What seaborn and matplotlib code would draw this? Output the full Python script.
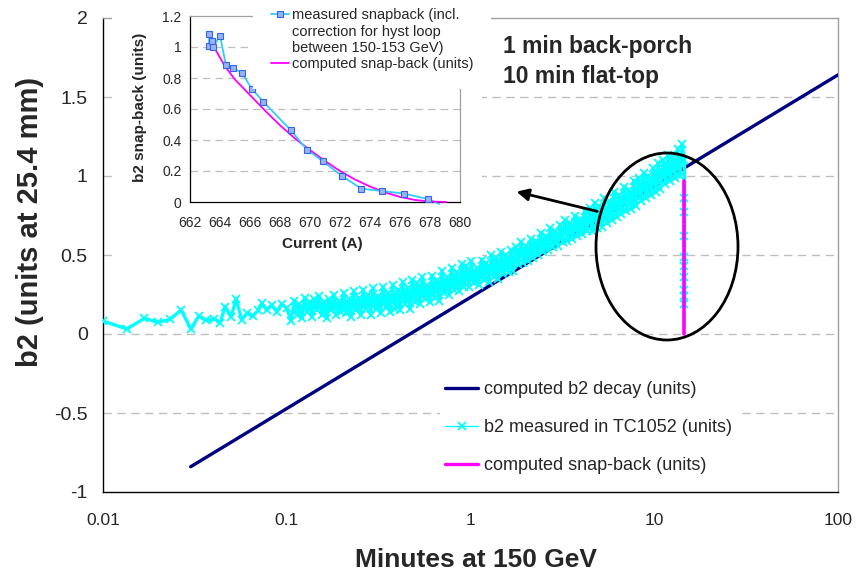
import matplotlib
matplotlib.use("Agg")
import matplotlib.pyplot as plt
from matplotlib.patches import Ellipse
from matplotlib.lines import Line2D
from matplotlib.ticker import FixedLocator, FixedFormatter, NullLocator
import seaborn as sns
import pandas as pd

# ---------------- data ----------------
decay_t = [0.03, 100.0]
decay_b2 = [-0.84, 1.64]

snap_t = [14.6, 14.6]
snap_b2 = [0.0, 0.97]

meas_t_sparse = [0.0100, 0.0135, 0.0168, 0.0200, 0.0232, 0.0266, 0.0301, 0.0332, 0.0364, 0.0404,
                 0.0434, 0.0462, 0.0498, 0.0530, 0.0569, 0.0606, 0.0653, 0.0700, 0.0731, 0.0778,
                 0.0828, 0.0882, 0.0939, 0.1000, 0.1055]
meas_b2_sparse = [0.082, 0.032, 0.099, 0.074, 0.093, 0.152, 0.032, 0.114, 0.086, 0.095,
                  0.072, 0.173, 0.110, 0.222, 0.089, 0.131, 0.114, 0.150, 0.194, 0.152,
                  0.184, 0.141, 0.190, 0.163, 0.084]

meas_t_dense = [
    0.110, 0.114, 0.117, 0.121, 0.125, 0.129, 0.133, 0.137, 0.141, 0.146,
    0.150, 0.155, 0.160, 0.165, 0.170, 0.175, 0.181, 0.186, 0.192, 0.198,
    0.204, 0.211, 0.217, 0.224, 0.231, 0.238, 0.246, 0.253, 0.261, 0.269,
    0.278, 0.286, 0.295, 0.305, 0.314, 0.324, 0.334, 0.345, 0.355, 0.366,
    0.378, 0.390, 0.402, 0.414, 0.427, 0.441, 0.455, 0.469, 0.483, 0.498,
    0.514, 0.530, 0.547, 0.564, 0.581, 0.600, 0.618, 0.637, 0.657, 0.678,
    0.699, 0.721, 0.743, 0.767, 0.790, 0.815, 0.841, 0.867, 0.894, 0.922,
    0.950, 0.980, 1.01, 1.04, 1.08, 1.11, 1.15, 1.18, 1.22, 1.26,
    1.30, 1.34, 1.38, 1.42, 1.47, 1.51, 1.56, 1.61, 1.66, 1.71,
    1.77, 1.82, 1.88, 1.94, 2.00, 2.06, 2.13, 2.19, 2.26, 2.33,
    2.41, 2.48, 2.56, 2.64, 2.72, 2.81, 2.89, 2.98, 3.08, 3.17,
    3.27, 3.37, 3.48, 3.59, 3.70, 3.82, 3.94, 4.06, 4.18, 4.31,
    4.45, 4.59, 4.73, 4.88, 5.03, 5.19, 5.35, 5.52, 5.69, 5.87,
    6.05, 6.24, 6.43, 6.63, 6.84, 7.05, 7.27, 7.50, 7.73, 7.97,
    8.22, 8.48, 8.74, 9.02, 9.30, 9.59, 9.89, 10.2, 10.5, 10.8,
    11.2, 11.5, 11.9, 12.2, 12.6, 13.0, 13.4, 13.8, 14.2, 14.6]
meas_b2_dense = [
    0.21, 0.12, 0.19, 0.10, 0.23, 0.14, 0.20, 0.11, 0.22, 0.15,
    0.24, 0.12, 0.20, 0.10, 0.22, 0.15, 0.25, 0.12, 0.21, 0.14,
    0.26, 0.13, 0.22, 0.11, 0.27, 0.15, 0.23, 0.12, 0.28, 0.16,
    0.25, 0.12, 0.29, 0.16, 0.24, 0.13, 0.30, 0.17, 0.26, 0.14,
    0.31, 0.16, 0.28, 0.15, 0.33, 0.19, 0.29, 0.16, 0.34, 0.20,
    0.32, 0.19, 0.36, 0.22, 0.31, 0.20, 0.37, 0.23, 0.34, 0.21,
    0.40, 0.26, 0.36, 0.25, 0.42, 0.28, 0.39, 0.27, 0.44, 0.30,
    0.43, 0.30, 0.46, 0.32, 0.42, 0.31, 0.47, 0.34, 0.45, 0.33,
    0.50, 0.36, 0.48, 0.35, 0.52, 0.38, 0.50, 0.39, 0.53, 0.40,
    0.55, 0.44, 0.58, 0.45, 0.56, 0.46, 0.60, 0.48, 0.59, 0.50,
    0.64, 0.52, 0.62, 0.53, 0.67, 0.55, 0.65, 0.56, 0.69, 0.58,
    0.72, 0.59, 0.70, 0.60, 0.75, 0.62, 0.73, 0.63, 0.78, 0.65,
    0.80, 0.65, 0.83, 0.67, 0.81, 0.68, 0.86, 0.70, 0.84, 0.72,
    0.90, 0.74, 0.88, 0.76, 0.93, 0.78, 0.91, 0.79, 0.97, 0.81,
    0.99, 0.84, 1.02, 0.86, 1.00, 0.88, 1.05, 0.90, 1.08, 0.92,
    1.10, 0.95, 1.13, 0.97, 1.12, 0.99, 1.17, 1.00, 1.20, 1.10]

meas_t_drop = [14.6, 14.6, 14.6, 14.6, 14.6, 14.6, 14.6, 14.6, 14.6]
meas_b2_drop = [0.86, 0.77, 0.62, 0.49, 0.43, 0.36, 0.28, 0.24, 0.19]

x_ticks = [0.01, 0.1, 1, 10, 100]
x_tick_labels = ["0.01", "0.1", "1", "10", "100"]
y_ticks = [-1, -0.5, 0, 0.5, 1, 1.5, 2]
y_tick_labels = ["-1", "-0.5", "0", "0.5", "1", "1.5", "2"]

# inset data
ins_meas_I = [663.29, 663.26, 663.44, 663.55, 664.0, 664.4, 664.89, 665.47, 666.13, 666.89,
              668.71, 669.8, 670.87, 672.13, 673.42, 674.8, 676.27, 677.87]
ins_meas_b2 = [1.082, 1.008, 1.04, 1.0, 1.073, 0.882, 0.864, 0.832, 0.729, 0.647,
               0.464, 0.338, 0.262, 0.168, 0.086, 0.071, 0.054, 0.019]
ins_meas_tail_I = [677.87, 678.62]
ins_meas_tail_b2 = [0.019, -0.013]
ins_comp_I = [663.6, 664.3, 665.0, 666.0, 667.0, 668.0, 669.0, 670.0, 671.0, 672.0,
              673.0, 674.0, 675.0, 676.0, 677.0, 678.0, 679.1]
ins_comp_b2 = [1.0, 0.88, 0.79, 0.69, 0.59, 0.495, 0.41, 0.335, 0.265, 0.2,
               0.145, 0.1, 0.062, 0.033, 0.013, 0.003, 0.0]
ins_x_ticks = [662, 664, 666, 668, 670, 672, 674, 676, 678, 680]
ins_y_ticks = [0, 0.2, 0.4, 0.6, 0.8, 1.0, 1.2]
ins_y_tick_labels = ["0", "0.2", "0.4", "0.6", "0.8", "1", "1.2"]
ins_leg_meas_lines = ["measured snapback (incl.", "correction for hyst loop",
                      "between 150-153 GeV)"]
ins_leg_comp = "computed snap-back (units)"

# ---------------- style ----------------
sns.set_style("white")
plt.rcParams['font.family'] = ['Liberation Sans', 'DejaVu Sans']

W, H = 857, 578
fig = plt.figure(figsize=(W / 100, H / 100), dpi=100)


def fr(x0, y0, x1, y1):
    return [x0 / W, 1 - y1 / H, (x1 - x0) / W, (y1 - y0) / H]


ax = fig.add_axes(fr(103, 18, 838, 492))
ax.set_xscale('log')
ax.set_xlim(0.01, 100)
ax.set_ylim(-1, 2)

NAVY = '#000080'
CYAN = '#00FFFF'
MAG = '#FF00FF'

meas_df = pd.DataFrame({
    't': meas_t_sparse + meas_t_dense + meas_t_drop,
    'b2': meas_b2_sparse + meas_b2_dense + meas_b2_drop,
})

sns.lineplot(x=decay_t, y=decay_b2, ax=ax, color=NAVY, lw=2.4,
             label='computed b2 decay (units)', sort=False, estimator=None, zorder=3)
sns.lineplot(data=meas_df, x='t', y='b2', ax=ax, color=CYAN, lw=2.4, marker='x',
             markersize=6, markeredgewidth=1.3, markeredgecolor=CYAN,
             label='b2 measured in TC1052 (units)', sort=False, estimator=None, zorder=4)
sns.lineplot(x=snap_t, y=snap_b2, ax=ax, color=MAG, lw=2.6,
             label='computed snap-back (units)', sort=False, estimator=None, zorder=5)

ax.xaxis.set_major_locator(FixedLocator(x_ticks))
ax.xaxis.set_major_formatter(FixedFormatter(x_tick_labels))
ax.xaxis.set_minor_locator(NullLocator())
ax.yaxis.set_major_locator(FixedLocator(y_ticks))
ax.yaxis.set_major_formatter(FixedFormatter(y_tick_labels))

for lab in ax.get_xticklabels():
    lab.set_fontsize(12.5)
for lab in ax.get_yticklabels():
    lab.set_fontsize(14)

ax.tick_params(axis='both', direction='out', length=5, width=1, color='black', pad=6)
ax.tick_params(axis='x', pad=10)
ax.grid(False)
for yv in [-0.5, 0, 0.5, 1, 1.5]:
    ax.axhline(yv, color='#BFBFBF', lw=1, ls=(0, (6, 4)), zorder=1)

ax.spines['left'].set_color('black')
ax.spines['bottom'].set_color('black')
ax.spines['top'].set_color('#A0A0A0')
ax.spines['right'].set_color('#A0A0A0')
for s in ax.spines.values():
    s.set_linewidth(1)

ax.set_xlabel('Minutes at 150 GeV', fontsize=19, fontweight='bold')
ax.xaxis.label.set_va('center')
ax.xaxis.set_label_coords((476 - 103) / 735, (492 - 560) / 474)
ax.set_ylabel('b2 (units at 25.4 mm)', fontsize=21, fontweight='bold')
ax.yaxis.label.set_va('center')
ax.yaxis.set_label_coords((30 - 103) / 735, (492 - 222) / 474)

leg = ax.legend(loc='upper left', bbox_to_anchor=((440 - 103) / 735, (492 - 376) / 474),
                frameon=True, fontsize=13, handlelength=1.8, handletextpad=0.35,
                labelspacing=1.15, borderpad=0.3, borderaxespad=0, fancybox=False)
leg.get_frame().set_facecolor('white')
leg.get_frame().set_edgecolor('none')
leg.get_frame().set_alpha(1)
for hl in leg.get_lines():
    hl.set_linewidth(2.4)
leg.get_lines()[1].set_linewidth(1.0)

# ellipse and arrow
ell = Ellipse(((667 - 103) / 735, (492 - 246.5) / 474), 142 / 735, 187 / 474,
              transform=ax.transAxes, fill=False, edgecolor='black', lw=2, zorder=6)
ax.add_patch(ell)
ax.annotate('', xy=(1.72, 0.905), xytext=(5.07, 0.772),
            arrowprops=dict(arrowstyle='-|>', color='black', lw=2,
                            mutation_scale=18), zorder=7)

fig.text(503 / W, 1 - 47 / H, '1 min back-porch', fontsize=16.5, fontweight='bold',
         ha='left', va='center')
fig.text(503 / W, 1 - 76 / H, '10 min flat-top', fontsize=16.5, fontweight='bold',
         ha='left', va='center')

# white background for the inset chart object
bg = fig.add_axes(fr(112, 0, 482, 257))
bg.set_facecolor('white')
bg.set_xticks([])
bg.set_yticks([])
for s in bg.spines.values():
    s.set_visible(False)

# ---------------- inset ----------------
ins = fig.add_axes(fr(190, 16, 460, 202))
ins.set_xlim(662, 680)
ins.set_ylim(0, 1.2)
for yv in [0.2, 0.4, 0.6, 0.8, 1.0]:
    ins.axhline(yv, color='#BFBFBF', lw=0.9, ls=(0, (6, 4)), zorder=1)

MEAS_C = '#33CCFF'
sns.lineplot(x=ins_meas_tail_I, y=ins_meas_tail_b2, ax=ins, color=MEAS_C, lw=1.3,
             sort=False, estimator=None, zorder=3, legend=False)
ins.lines[-1].set_clip_on(False)
sns.lineplot(x=ins_meas_I, y=ins_meas_b2, ax=ins, color=MEAS_C, lw=1.3, marker='s',
             markersize=4.5, markerfacecolor='#99B3F0', markeredgecolor='#3366E6',
             markeredgewidth=0.8, sort=False, estimator=None, zorder=4, legend=False)
sns.lineplot(x=ins_comp_I, y=ins_comp_b2, ax=ins, color=MAG, lw=1.3, sort=False,
             estimator=None, zorder=3, legend=False)
ins.lines[-1].set_clip_on(False)

ins.xaxis.set_major_locator(FixedLocator(ins_x_ticks))
ins.yaxis.set_major_locator(FixedLocator(ins_y_ticks))
ins.yaxis.set_major_formatter(FixedFormatter(ins_y_tick_labels))
ins.tick_params(axis='both', labelsize=10, direction='out', length=3, width=0.8, pad=3)
ins.tick_params(axis='x', pad=7)
ins.grid(False)
ins.spines['left'].set_color('black')
ins.spines['bottom'].set_color('black')
ins.spines['top'].set_color('#A0A0A0')
ins.spines['right'].set_color('#A0A0A0')
for s in ins.spines.values():
    s.set_linewidth(0.9)
ins.set_xlabel('Current (A)', fontsize=11, fontweight='bold')
ins.xaxis.label.set_va('center')
ins.xaxis.set_label_coords((322 - 190) / 270, (202 - 244) / 186)
ins.set_ylabel('b2 snap-back (units)', fontsize=11, fontweight='bold')
ins.yaxis.label.set_va('center')
ins.yaxis.set_label_coords((140 - 190) / 270, (202 - 107) / 186)

h_meas = Line2D([], [], color=MEAS_C, lw=1.3, marker='s', markersize=4.5,
                markerfacecolor='#99B3F0', markeredgecolor='#3366E6', markeredgewidth=0.8)
h_blank = Line2D([], [], color='none')
h_comp = Line2D([], [], color=MAG, lw=1.3)
ileg = ins.legend([h_meas, h_blank, h_blank, h_comp],
                  ins_leg_meas_lines + [ins_leg_comp],
                  loc='upper left', bbox_to_anchor=((253 - 190) / 270, (202 + 9) / 186),
                  frameon=True, fontsize=10.5, handlelength=1.3, handletextpad=0.2,
                  labelspacing=0.15, borderpad=1.2, borderaxespad=0, fancybox=False)
ileg.get_frame().set_facecolor('white')
ileg.get_frame().set_edgecolor('none')
ileg.get_frame().set_alpha(1)

fig.savefig('out.png', dpi=100)
